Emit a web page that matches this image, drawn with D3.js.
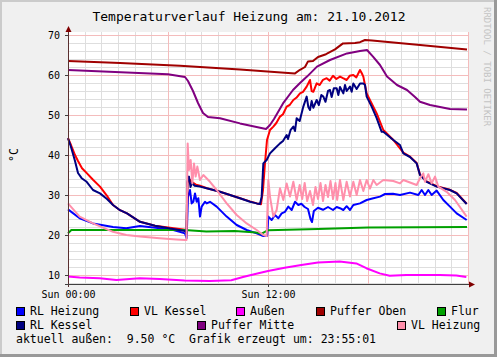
<!DOCTYPE html>
<html><head><meta charset="utf-8">
<script src="https://cdn.jsdelivr.net/npm/d3@7"></script>
<style>html,body{margin:0;padding:0;background:#f0f0f0;}svg{display:block;}text{font-family:"DejaVu Sans Mono",monospace;}</style>
</head><body>
<script>
const title = "Temperaturverlauf Heizung am: 21.10.2012";
const yTicks = [10,20,30,40,50,60,70];
const xTickHours = [0,12];
const xTickLabels = ["Sun 00:00","Sun 12:00"];
const seriesNames = ["RL Heizung","VL Kessel","Außen","Puffer Oben","Flur","RL Kessel","Puffer Mitte","VL Heizung"];
const seriesColors = ["#0000ff","#ff0000","#ff00ff","#a00000","#00a000","#000080","#800080","#ff8fab"];
const footer = "aktuell außen:  9.50 °C  Grafik erzeugt um: 23:55:01";

// [hour, °C]
const rlHeizung = [[0,26.4],[0.7,24.2],[1.5,22.9],[2.7,22.0],[3.5,21.7],[4.32,22.25],[5.52,21.7],[6.32,21.25],[7.02,20.4],[7.12,19.2],[7.2,29.6],[7.32,31.25],[7.42,27.9],[7.52,28.3],[7.62,30.4],[7.72,28.3],[7.82,29.2],[7.92,24.6],[8.02,27.1],[8.22,28.3],[8.32,27.9],[8.52,28.3],[8.92,27.1],[9.52,24.6],[10.12,22.5],[10.72,21.25],[11.32,20.4],[11.72,19.75],[11.95,19.8],[12.02,24.6],[12.22,23.75],[12.42,25.0],[12.62,24.2],[12.82,25.4],[13.02,25.8],[13.22,27.1],[13.42,26.25],[13.62,28.3],[13.82,27.5],[14.0,27.8],[14.2,27.0],[14.4,26.5],[14.55,24.0],[14.64,23.25],[14.75,26.0],[15.0,26.8],[15.3,26.3],[15.6,27.0],[15.9,26.25],[16.12,27.0],[16.32,26.7],[16.52,26.25],[16.72,27.2],[16.92,26.25],[17.12,27.5],[17.52,27.9],[17.92,28.75],[18.32,29.2],[18.72,29.6],[19.02,30.25],[19.5,30.3],[19.92,30.0],[20.52,30.6],[21.02,30.0],[21.22,31.25],[21.42,30.0],[21.62,31.25],[21.82,30.0],[22.12,31.1],[22.52,28.75],[22.92,27.1],[23.32,25.4],[23.92,23.75]];
const vlKessel = [[0,44.2],[0.18,42.5],[0.42,40.0],[0.6,38.5],[0.84,36.7],[1.14,35.4],[1.5,33.8],[1.92,32.1],[2.34,29.8],[2.7,27.5],[3.12,26.2],[3.54,25.4],[4.32,23.3],[5.22,22.3],[6.12,21.8],[7.02,21.3],[7.11,20.5],[7.17,33.0],[7.26,34.0],[7.44,33.2],[7.68,32.6],[7.92,32.3],[8.34,31.7],[9.12,30.8],[10.32,29.2],[10.92,28.4],[11.34,27.9],[11.58,27.7],[11.7,31.25],[11.82,38.0],[11.94,43.75],[12.12,46.25],[12.32,47.1],[12.5,48.0],[12.72,49.6],[12.9,50.2],[13.12,52.1],[13.3,52.5],[13.52,53.75],[13.7,54.3],[13.92,55.4],[14.1,55.8],[14.32,57.1],[14.52,58.75],[14.62,56.0],[14.72,55.8],[14.92,57.9],[15.1,57.5],[15.3,58.8],[15.52,59.2],[15.7,58.6],[15.9,59.8],[16.1,59.0],[16.32,59.6],[16.5,59.2],[16.72,58.75],[16.9,59.8],[17.12,60.0],[17.3,59.4],[17.52,61.25],[17.62,60.5],[17.72,59.6],[17.92,55.4],[18.22,52.9],[18.52,50.4],[18.92,46.25],[19.52,43.75],[20.12,40.6],[20.52,39.6],[20.92,38.0],[21.12,35.1],[21.52,33.4],[22.12,32.2],[22.92,31.3],[23.32,30.5],[23.92,27.8]];
const aussen = [[0,9.6],[0.7,9.4],[1.9,9.2],[2.9,8.75],[4.3,9.2],[5.5,9.0],[7,8.6],[8.5,8.5],[9.8,8.7],[10.5,9.5],[11.3,10.3],[12,11.0],[13,11.8],[14,12.5],[15,13.1],[16.3,13.4],[17.3,12.9],[17.9,11.7],[18.7,10.4],[19.3,9.8],[20.3,10.0],[22.3,10.0],[23.3,9.9],[23.9,9.5]];
const pufferOben = [[0,63.5],[3.12,63.0],[6.72,62.3],[10.32,61.4],[13.62,60.4],[13.92,61.3],[14.22,62.0],[14.4,63.4],[14.7,63.5],[15.0,64.5],[15.48,65.2],[16.02,66.4],[16.5,67.9],[17.22,68.0],[17.52,68.2],[17.82,68.75],[18.24,68.6],[21.12,67.5],[23.94,66.4]];
const flur = [[0,20.4],[0.2,21.25],[4,21.25],[7,21.25],[8.3,20.9],[10,21.0],[11.3,20.6],[11.6,20.3],[12,21.2],[15,21.5],[18,21.9],[23.94,22.0]];
const rlKessel = [[0,44.2],[0.18,42.0],[0.42,38.5],[0.6,35.5],[0.82,34.2],[1.12,33.3],[1.5,31.25],[1.92,30.4],[2.34,29.0],[2.7,27.5],[3.12,26.2],[3.54,25.4],[4.32,23.3],[5.22,22.3],[6.12,21.6],[7.02,21.0],[7.11,20.5],[7.16,33.3],[7.26,34.6],[7.35,32.0],[7.44,33.0],[7.6,32.3],[7.92,32.1],[8.32,31.7],[9.12,30.8],[10.32,29.2],[10.92,28.3],[11.32,27.9],[11.52,27.75],[11.62,29.6],[11.72,37.9],[11.92,38.75],[12.12,40.4],[12.42,41.7],[12.72,42.9],[12.9,43.5],[13.12,45.0],[13.2,44.0],[13.35,46.2],[13.52,47.1],[13.62,46.0],[13.72,49.2],[13.9,48.5],[14.12,52.1],[14.32,54.6],[14.42,52.0],[14.52,51.25],[14.62,53.5],[14.72,51.8],[14.92,53.75],[15.05,52.5],[15.2,55.0],[15.32,54.6],[15.45,53.3],[15.6,56.0],[15.72,56.25],[15.82,54.5],[15.95,56.7],[16.12,56.7],[16.22,55.0],[16.32,57.0],[16.52,55.4],[16.62,57.5],[16.72,56.0],[16.92,57.1],[17.02,55.8],[17.12,57.9],[17.32,56.5],[17.52,57.9],[17.72,57.9],[17.82,57.5],[17.92,54.6],[18.22,52.1],[18.52,49.2],[18.82,45.8],[18.92,45.8],[19.52,43.75],[19.92,42.5],[20.12,40.4],[20.52,39.5],[20.92,37.9],[21.12,35.0],[21.52,33.3],[22.12,32.1],[22.92,31.25],[23.32,30.4],[23.92,27.75]];
const pufferMitte = [[0,61.25],[6,60.2],[7.02,59.5],[7.2,58.5],[7.5,56.0],[7.8,53.0],[8.1,50.5],[8.4,49.5],[9.12,49.2],[10.32,47.9],[11.88,46.5],[12.12,47.5],[12.36,49.0],[12.9,52.9],[13.5,56.25],[13.92,58.0],[14.34,59.6],[14.94,62.1],[15.72,63.75],[16.74,65.4],[17.52,66.0],[17.94,66.25],[18.3,64.6],[18.72,62.5],[19.14,59.6],[19.74,57.5],[20.34,56.25],[20.82,54.5],[21.12,53.3],[21.72,52.5],[22.32,52.0],[22.92,51.5],[23.94,51.4]];
const vlHeizung = [[0,27.9],[0.7,24.6],[1.5,22.9],[2.7,20.8],[3.5,20.0],[4.32,19.6],[5.5,19.2],[6.5,18.9],[7.02,18.75],[7.11,18.75],[7.18,42.9],[7.26,36.25],[7.36,38.75],[7.46,32.9],[7.56,37.9],[7.66,34.6],[7.76,37.1],[7.92,33.75],[8.12,35.0],[8.52,33.3],[8.92,31.25],[9.52,27.9],[10.12,25.0],[10.72,22.9],[11.32,21.25],[11.72,20.0],[11.92,19.75],[12.02,33.75],[12.12,29.6],[12.22,27.1],[12.32,24.6],[12.52,26.25],[12.72,31.7],[12.92,28.75],[13.12,32.9],[13.32,29.6],[13.52,33.3],[13.72,28.75],[13.9,32.5],[14.05,29.0],[14.2,33.0],[14.35,28.5],[14.52,31.0],[14.7,27.5],[14.85,32.0],[15.0,29.0],[15.15,33.0],[15.3,28.5],[15.45,32.5],[15.6,29.5],[15.75,33.5],[15.9,29.0],[16.05,33.0],[16.15,28.75],[16.32,33.75],[16.52,28.75],[16.72,33.3],[16.92,29.6],[17.12,33.3],[17.32,30.0],[17.52,33.75],[17.72,31.0],[17.92,33.75],[18.12,31.6],[18.32,33.75],[18.52,32.5],[18.92,33.75],[19.52,33.5],[19.92,32.9],[20.12,33.75],[20.92,32.5],[21.12,34.2],[21.32,35.4],[21.42,33.3],[21.62,35.2],[21.82,32.9],[22.02,34.6],[22.22,32.1],[22.72,30.8],[23.22,28.75],[23.92,24.6]];

const seriesData = [rlHeizung, vlKessel, aussen, pufferOben, flur, rlKessel, pufferMitte, vlHeizung];

const W = 497, H = 357;
const L = 68, R = 468, T = 32, B = 284;
const svg = d3.select("body").append("svg").attr("width", W).attr("height", H);

// background and shading
svg.append("rect").attr("width", W).attr("height", H).attr("fill", "#f0f0f0");
svg.append("rect").attr("x",0).attr("y",0).attr("width",W).attr("height",2).attr("fill","#cbcbcb");
svg.append("rect").attr("x",0).attr("y",0).attr("width",2).attr("height",H).attr("fill","#cbcbcb");
svg.append("rect").attr("x",W-3).attr("y",0).attr("width",3).attr("height",H).attr("fill","#999");
svg.append("rect").attr("x",0).attr("y",H-3).attr("width",W).attr("height",3).attr("fill","#999");

const x = d3.scaleLinear().domain([0, 24]).range([L, R]);
const y = d3.scaleLinear().domain([7.75, 70.75]).range([B, T]);

svg.append("rect").attr("x", L).attr("y", T).attr("width", R - L).attr("height", B - T).attr("fill", "#fff");

// grid
const g = svg.append("g").attr("shape-rendering", "crispEdges");
d3.range(8, 71, 2).forEach(v => {
  if (v % 10 !== 0) g.append("line").attr("x1", L).attr("x2", R).attr("y1", Math.round(y(v))+0.5).attr("y2", Math.round(y(v))+0.5).attr("stroke", "#dedede");
});
d3.range(0, 25, 1).forEach(h => {
  if (h % 6 !== 0) g.append("line").attr("x1", Math.round(x(h))+0.5).attr("x2", Math.round(x(h))+0.5).attr("y1", T).attr("y2", B).attr("stroke", "#dedede");
});
yTicks.forEach(v => g.append("line").attr("x1", L).attr("x2", R).attr("y1", Math.round(y(v))+0.5).attr("y2", Math.round(y(v))+0.5).attr("stroke", "#f4bcbc"));
[0,6,12,18,24].forEach(h => g.append("line").attr("x1", Math.round(x(h))+0.5).attr("x2", Math.round(x(h))+0.5).attr("y1", T).attr("y2", B).attr("stroke", "#f4bcbc"));

// axes via d3 axis
const yAxis = d3.axisLeft(y).tickValues(yTicks).tickSize(3).tickPadding(5).tickFormat(d3.format("d"));
const yg = svg.append("g").attr("transform", `translate(${L},0)`).call(yAxis);
yg.select(".domain").remove();
yg.selectAll("line").attr("stroke", "#404040");
yg.selectAll("text").attr("font-family", "DejaVu Sans Mono").attr("font-size", "10px").attr("fill", "#000");

const xAxis = d3.axisBottom(x).tickValues(xTickHours).tickSize(3).tickPadding(4).tickFormat((d,i) => xTickLabels[i]);
const xg = svg.append("g").attr("transform", `translate(0,${B})`).call(xAxis);
xg.select(".domain").remove();
xg.selectAll("line").attr("stroke", "#404040");
xg.selectAll("text").attr("font-family", "DejaVu Sans Mono").attr("font-size", "10px").attr("fill", "#000");

// series
const line = d3.line().x(d => x(d[0])).y(d => y(d[1]));
seriesData.forEach((s, i) => {
  svg.append("path").datum(s).attr("d", line).attr("fill", "none")
    .attr("stroke", seriesColors[i]).attr("stroke-width", 2).attr("stroke-linejoin", "round");
});

// axis lines + arrows
svg.append("line").attr("x1", L+0.5).attr("x2", L+0.5).attr("y1", B+3).attr("y2", T-4).attr("stroke", "#5a3030").attr("shape-rendering","crispEdges");
svg.append("line").attr("x1", L-3).attr("x2", R+2).attr("y1", B+0.5).attr("y2", B+0.5).attr("stroke", "#404040").attr("shape-rendering","crispEdges");
svg.append("path").attr("d", `M${L+0.5},${T-6} L${L-2.5},${T} L${L+3.5},${T} Z`).attr("fill", "#800000");
svg.append("path").attr("d", `M${R+7},${B+0.5} L${R+1},${B-2.5} L${R+1},${B+3.5} Z`).attr("fill", "#800000");

// title
svg.append("text").attr("x", 249).attr("y", 21).attr("text-anchor", "middle").attr("font-size", "13px").attr("fill", "#000").text(title);

// y label
svg.append("text").attr("transform", "translate(18,155) rotate(-90)").attr("text-anchor", "middle").attr("font-size", "11.5px").attr("fill", "#000").text("°C");

// watermark
svg.append("text").attr("transform", "translate(484,7) rotate(90)").attr("font-size", "9px").attr("fill", "#c4c4c4").text("RRDTOOL / TOBI OETIKER");

// legend
const legendPos = [[16,307],[130,307],[236,307],[316,307],[437,307],[16,321],[197,321],[397,321]];
seriesNames.forEach((n, i) => {
  const [lx, ly] = legendPos[i];
  svg.append("rect").attr("x", lx+0.5).attr("y", ly+0.5).attr("width", 8).attr("height", 8)
    .attr("fill", seriesColors[i]).attr("stroke", "#000").attr("stroke-width", 1).attr("shape-rendering","crispEdges");
  svg.append("text").attr("x", lx + 14).attr("y", ly + 8).attr("font-size", "11.5px").attr("fill", "#000").text(n);
});
svg.append("text").attr("x", 16).attr("y", 343).attr("font-size", "11.5px").attr("fill", "#000").attr("xml:space","preserve").style("white-space","pre").text(footer);
</script>
</body></html>
